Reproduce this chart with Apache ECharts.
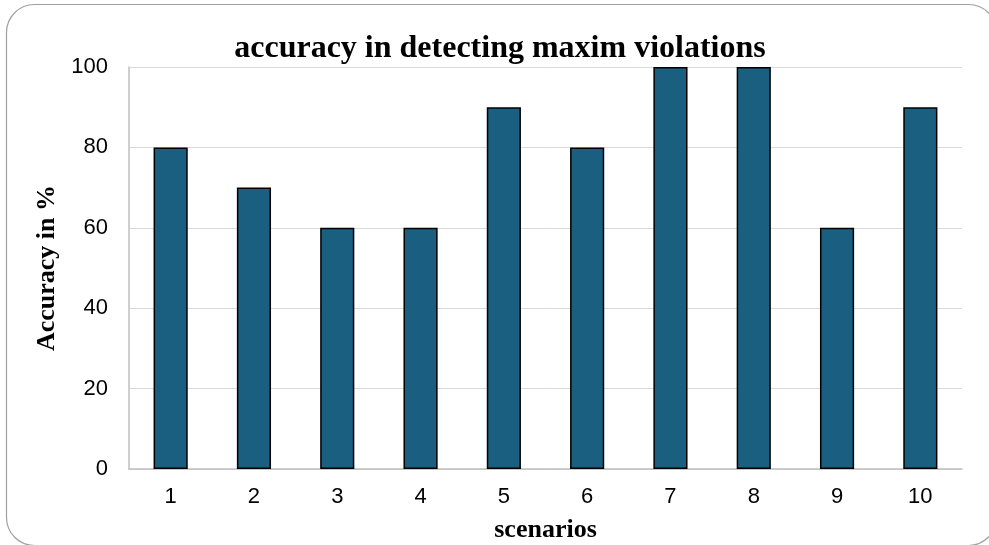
<!DOCTYPE html>
<html>
<head>
<meta charset="utf-8">
<script src="https://cdn.jsdelivr.net/npm/echarts@6/dist/echarts.min.js"></script>
<style>
html,body{margin:0;padding:0;background:#fff;}
#chart{width:989px;height:545px;}
</style>
</head>
<body>
<div id="chart"></div>
<script>
// scenarios along the x axis
var scenarios=['1','2','3','4','5','6','7','8','9','10'];
// accuracy per scenario, in %
var accuracy=[80,70,60,60,90,80,100,100,60,90];

var serif='"Liberation Serif","Times New Roman",serif';
var sans='"Liberation Sans",Arial,sans-serif';

var myChart=echarts.init(document.getElementById('chart'));
myChart.setOption({
    animation:false,
    backgroundColor:'#fff',
    title:{
        text:'accuracy in detecting maxim violations',
        left:495,
        top:28,
        textAlign:'center',
        textStyle:{fontFamily:serif,fontWeight:'bold',fontSize:32,color:'#000'}
    },
    graphic:[{
        type:'rect',
        shape:{x:6.5,y:4.5,width:990,height:541,r:28},
        style:{fill:null,stroke:'#a0a0a0',lineWidth:1.2},
        silent:true
    }],
    grid:{left:129,right:27,top:67,bottom:76,containLabel:false,outerBoundsMode:'none'},
    xAxis:{
        type:'category',
        data:scenarios,
        name:'scenarios',
        nameLocation:'middle',
        nameGap:48,
        nameTextStyle:{fontFamily:serif,fontWeight:'bold',fontSize:26,color:'#000'},
        axisLine:{lineStyle:{color:'#bfbfbf',width:1.5}},
        axisTick:{show:false},
        axisLabel:{fontFamily:sans,fontSize:22,color:'#000',margin:17}
    },
    yAxis:{
        type:'value',
        min:0,
        max:100,
        interval:20,
        name:'Accuracy in %',
        nameLocation:'middle',
        nameGap:60,
        nameTextStyle:{fontFamily:serif,fontWeight:'bold',fontSize:26,color:'#000'},
        axisLine:{show:true,lineStyle:{color:'#bfbfbf',width:1.5}},
        axisTick:{show:false},
        axisLabel:{fontFamily:sans,fontSize:22,color:'#000',margin:21},
        splitLine:{lineStyle:{color:'#d9d9d9',width:1}}
    },
    series:[{
        type:'bar',
        data:accuracy,
        barWidth:'41%',
        itemStyle:{color:'#1a5f80',borderColor:'#000',borderWidth:1.5}
    }]
});
</script>
</body>
</html>
